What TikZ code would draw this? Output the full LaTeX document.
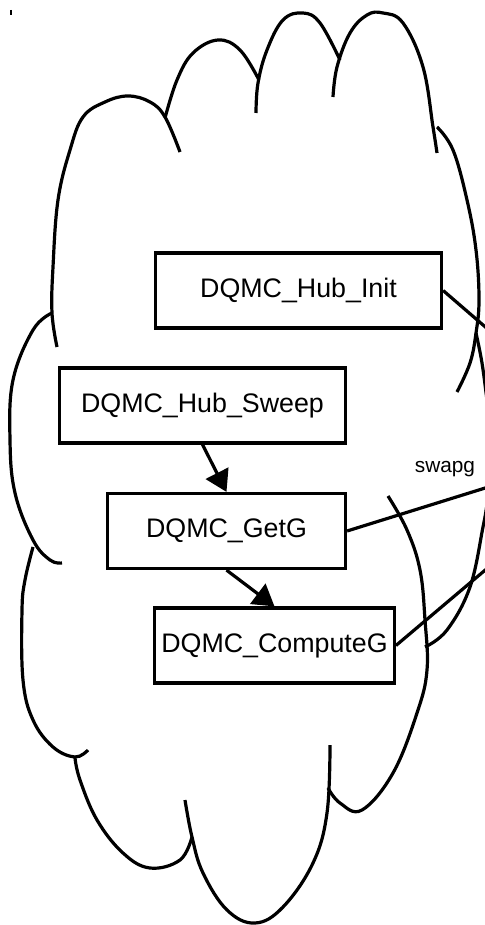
\documentclass[tikz,border=0pt]{standalone}
\usepackage{fontspec}
\setmainfont{Liberation Sans}
\usetikzlibrary{arrows.meta}
\newcommand{\widthwide}{143pt}
\newcommand{\widthnarrow}{119pt}
\tikzset{
    common/.style={draw, rectangle, line width=1.6pt, fill=white, minimum height=37.5pt, font=\fontsize{13.4}{16}\selectfont},
    wide/.style={common, minimum width=\widthwide},
    narrow/.style={common, minimum width=\widthnarrow},
    lobe/.style={line width=1.6pt, smooth, tension=0.65},
    link/.style={line width=1.6pt},
    flow/.style={link, -{Triangle[length=10.5pt, width=12.5pt]}}
}

\begin{document}
\begin{tikzpicture}[x=0.5pt, y=-0.5pt]
    \useasboundingbox (0,0) rectangle (485,925);
    \draw[line width=1pt] (11,10) -- (11,15);

    % cloud
    \begin{scope}
        \clip (0,0) rectangle (485,925);
        \draw[lobe] plot coordinates {(180,152) (165,117) (150,102) (128,96) (105,102) (83,117) (70,150) (58,200) (53,267) (52,313) (57,347)};
        \draw[lobe] plot coordinates {(165,118) (177,80) (193,53) (218,40) (240,50) (259,80)};
        \draw[lobe] plot coordinates {(256,113) (258,83) (267,50) (283,20) (303,13) (320,23) (340,60)};
        \draw[lobe] plot coordinates {(333,97) (337,67) (350,33) (367,15) (383,13) (403,23) (423,67) (433,127) (437,153)};
        \draw[lobe] plot coordinates {(437,127) (453,150) (467,200) (476,250) (479,300) (476,333) (470,363) (457,392)};
        \draw[lobe] plot coordinates {(476,333) (482,363) (487,400) (490,420)};
        \draw[lobe] plot coordinates {(490,490) (487,505) (483,527) (470,587) (447,630) (425,647)};
        \draw[lobe] plot coordinates {(388,496) (407,530) (420,570) (425,620) (427,670) (417,713) (393,773) (362,810) (340,803) (328,788)};
        \draw[lobe] plot coordinates {(330,745) (327,813) (313,863) (283,907) (255,923) (227,910) (203,873) (192,837) (185,800)};
        \draw[lobe] plot coordinates {(192,837) (180,860) (150,868) (123,853) (97,820) (80,780) (75,758)};
        \draw[lobe] plot coordinates {(33,547) (25,580) (22,610) (23,680) (33,720) (53,747) (75,757) (88,750)};
        \draw[lobe] plot coordinates {(52,313) (33,330) (13,380) (10,440) (15,493) (33,540) (50,560) (62,563)};

        \coordinate (initout) at (490,331);
        \coordinate (getgout) at (490,486.5);
        \coordinate (computeout) at (490,566);
    \end{scope}

    \path
        (298.5,290.5) node[wide] (init) {DQMC\_Hub\_Init}
        (202.5,405.5) node[wide] (sweep) {DQMC\_Hub\_Sweep}
        (226.5,531) node[narrow] (getg) {DQMC\_GetG}
        (274.5,645.5) node[narrow] (computeg) {DQMC\_ComputeG}
        (445,469) node[font=\fontsize{10.4}{12}\selectfont] (swapg) {swapg};

    \draw[flow] (sweep.south) -- (getg.north);
    \draw[flow] (getg.south) -- (computeg.north);
    \begin{scope}
        \clip (0,0) rectangle (485,925);
        \draw[link] (init.east) -- (initout);
        \draw[link] (getg.east) -- (getgout);
        \draw[link] (computeg.east) -- (computeout);
    \end{scope}
\end{tikzpicture}
\end{document}
